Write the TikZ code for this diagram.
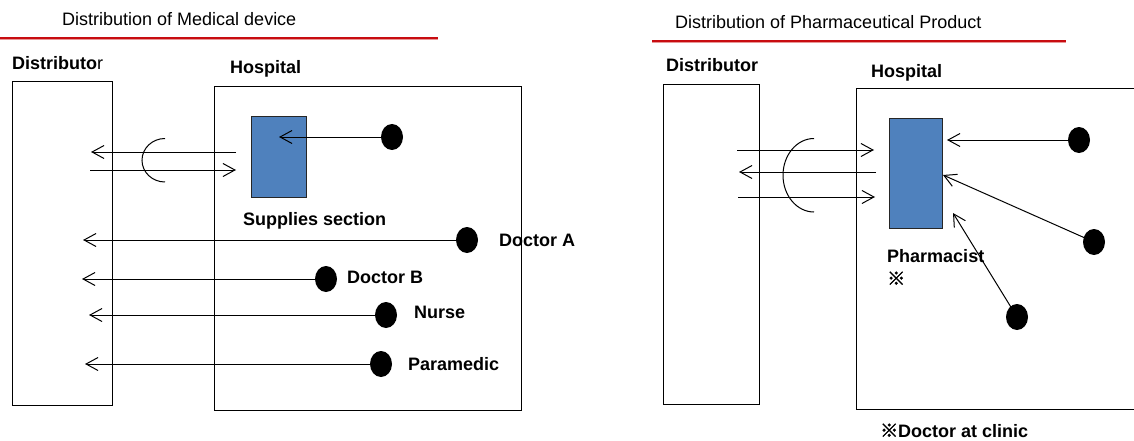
\documentclass[tikz,border=0pt]{standalone}
\usepackage{fontspec}
\setmainfont{Liberation Sans}
\newfontfamily\cjk{Noto Sans CJK JP}[FakeBold=2.5]
\usetikzlibrary{arrows.meta,shapes.geometric}
\definecolor{rulered}{RGB}{200,12,16}
\definecolor{ruleshade}{RGB}{232,150,150}
\definecolor{sectblue}{RGB}{79,129,189}

\begin{document}
\begin{tikzpicture}[x=1pt,y=-1pt,
  lbl/.style={font=\fontsize{18}{20}\selectfont\bfseries, inner sep=0pt, anchor=base west},
  ttl/.style={font=\fontsize{18}{20}\selectfont, inner sep=0pt, anchor=base west},
  frame/.style={draw, line width=1.2pt, inner sep=0pt, anchor=north west},
  section/.style={draw=black!85, fill=sectblue, line width=1.2pt, inner sep=0pt, anchor=north west},
  dot/.style={ellipse, fill=black, minimum width=22pt, minimum height=26pt, inner sep=0pt},
  flow/.style={line width=1pt, -{Straight Barb[length=12pt,width=13pt,line width=1pt]}},
  bracket/.style={line width=1pt},
  rule/.style={line width=2.4pt, rulered},
  ruleshadow/.style={line width=1pt, ruleshade}
]
\useasboundingbox (0,0) rectangle (1134,441);
\clip (0,0) rectangle (1134,441);

% ---------- Medical device ----------
\node[ttl] (titleA) at (62,26) {Distribution of Medical device};
\coordinate (ruleAl) at (0,38);
\coordinate (ruleAr) at (438,38);
\draw[ruleshadow] ([yshift=-2pt]ruleAl) -- ([yshift=-2pt]ruleAr);
\draw[rule] (ruleAl) -- (ruleAr);

\node[lbl] (distA) at (12,69.5) {Distributo\mdseries r};
\node[lbl] (hospA) at (230,74) {Hospital};
\node[frame, minimum width=100pt, minimum height=324pt] (distboxA) at (12,81) {};
\node[frame, minimum width=307pt, minimum height=324pt] (hospboxA) at (214,86) {};
\node[section, minimum width=55pt, minimum height=81pt] (supply) at (251,116) {};
\node[lbl] (supplyL) at (243,225.5) {Supplies section};

% ordering exchange between distributor and supplies section
\coordinate (outA) at (236,152);
\coordinate (outAend) at (91,152);
\coordinate (inA) at (90,170);
\coordinate (inAend) at (236,170);
\draw[flow] (outA) -- (outAend);
\draw[flow] (inA) -- (inAend);
\draw[bracket] (165,138.5) arc[start angle=270, end angle=90, x radius=23, y radius=21.75];

% internal request to supplies section
\node[dot] (staffS) at (392,137) {};
\coordinate (supplyIn) at (279,137);
\draw[flow] (staffS.center) -- (supplyIn);

% direct orders to distributor
\node[dot] (docA) at (467,240) {};
\node[lbl] (docAL) at (499,246.5) {Doctor A};
\coordinate (docAend) at (83,240);
\draw[flow] (docA.center) -- (docAend);

\node[dot] (docB) at (326,279) {};
\node[lbl] (docBL) at (347,283) {Doctor B};
\coordinate (docBend) at (82,279);
\draw[flow] (docB.center) -- (docBend);

\node[dot] (nurse) at (386,315) {};
\node[lbl] (nurseL) at (414,318.5) {Nurse};
\coordinate (nurseEnd) at (89,315);
\draw[flow] (nurse.center) -- (nurseEnd);

\node[dot] (para) at (381,364) {};
\node[lbl] (paraL) at (408,370.5) {Paramedic};
\coordinate (paraEnd) at (85,364);
\draw[flow] (para.center) -- (paraEnd);

% ---------- Pharmaceutical product ----------
\node[ttl] (titleB) at (675,29) {Distribution of Pharmaceutical Product};
\coordinate (ruleBl) at (652,41);
\coordinate (ruleBr) at (1066,41);
\draw[ruleshadow] ([yshift=-2pt]ruleBl) -- ([yshift=-2pt]ruleBr);
\draw[rule] (ruleBl) -- (ruleBr);

\node[lbl] (distB) at (666,72) {Distributor};
\node[lbl] (hospB) at (871,78) {Hospital};
\node[frame, minimum width=96pt, minimum height=320pt] (distboxB) at (663,84) {};
\node[frame, minimum width=300pt, minimum height=321pt] (hospboxB) at (856,88) {};
\node[section, minimum width=53pt, minimum height=110pt] (pharm) at (889,118) {};
\node[lbl] (pharmL) at (887,262) {Pharmacist};
\node[lbl] (markL) at (887,285) {\cjk\bfseries ※};
\node[lbl] (noteL) at (880,437) {{\cjk\bfseries ※}Doctor at clinic};

% ordering exchange between distributor and pharmacist
\coordinate (p1s) at (737,150);
\coordinate (p1e) at (874,150);
\coordinate (p2s) at (876,172);
\coordinate (p2e) at (739,172);
\coordinate (p3s) at (738,197);
\coordinate (p3e) at (875,197);
\draw[flow] (p1s) -- (p1e);
\draw[flow] (p2s) -- (p2e);
\draw[flow] (p3s) -- (p3e);
\draw[bracket] (814,138.5) arc[start angle=270, end angle=90, x radius=31, y radius=36.75];

% requests to the pharmacist
\node[dot] (rq1) at (1079,140) {};
\coordinate (rq1end) at (947,140);
\draw[flow] (rq1.center) -- (rq1end);

\node[dot] (rq2) at (1094,242) {};
\coordinate (rq2end) at (943,175);
\draw[flow] (rq2.center) -- (rq2end);

\node[dot] (rq3) at (1017,317) {};
\coordinate (rq3end) at (953,213);
\draw[flow] (rq3.center) -- (rq3end);
\end{tikzpicture}
\end{document}
